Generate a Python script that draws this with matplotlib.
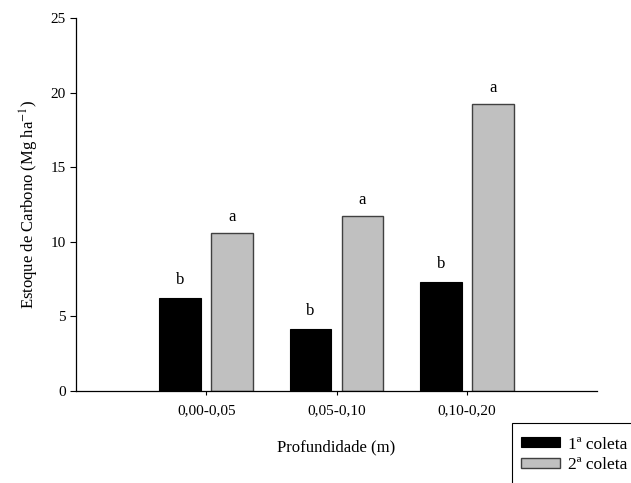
import matplotlib
matplotlib.use("Agg")
import matplotlib.pyplot as plt
from matplotlib.patches import Rectangle
import numpy as np

plt.rcParams["font.family"] = ["Liberation Serif", "DejaVu Serif"]
plt.rcParams["mathtext.fontset"] = "stix"

depths = ["0,00-0,05", "0,05-0,10", "0,10-0,20"]
coleta1 = [6.2, 4.15, 7.3]
coleta2 = [10.55, 11.7, 19.2]
letters1 = ["b", "b", "b"]
letters2 = ["a", "a", "a"]
series_names = ["1ª coleta", "2ª coleta"]

W, H = 631, 483
fig = plt.figure(figsize=(W / 100, H / 100), dpi=100)
ax = fig.add_axes([76 / W, 1 - 390.7 / H, 521 / W, 372.7 / H])

x = np.arange(1, len(depths) + 1)
width = 0.32
offset = 0.2
b1 = ax.bar(x - offset, coleta1, width, color="black", edgecolor="black",
            linewidth=0.8, label=series_names[0])
b2 = ax.bar(x + offset, coleta2, width, color="#c0c0c0", edgecolor="#404040",
            linewidth=1.0, label=series_names[1])

tick_fs = 11
label_fs = 12
legend_fs = 12.5
for xi, v, s in zip(x - offset, coleta1, letters1):
    ax.text(xi, v + 0.95, s, ha="center", va="baseline", fontsize=label_fs)
for xi, v, s in zip(x + offset, coleta2, letters2):
    ax.text(xi, v + 0.85, s, ha="center", va="baseline", fontsize=label_fs)

ax.set_xlim(0, 4)
ax.set_ylim(0, 25)
ax.set_xticks(x)
ax.set_xticklabels(depths)
ax.set_yticks([0, 5, 10, 15, 20, 25])
ax.tick_params(axis="y", length=4.5, width=0.8, pad=3, labelsize=tick_fs)
ax.tick_params(axis="x", length=3, width=0.8, pad=7, labelsize=tick_fs)
for side in ("top", "right"):
    ax.spines[side].set_visible(False)
for side in ("left", "bottom"):
    ax.spines[side].set_linewidth(0.9)

ax.set_xlabel("Profundidade (m)", fontsize=label_fs)
ax.set_ylabel(r"Estoque de Carbono (Mg ha$^{-1}$)", fontsize=label_fs)
ax.xaxis.set_label_coords(0.5, -0.13)
ax.yaxis.set_label_coords(-0.067, 0.5)

# legend box runs off the right and bottom edges of the figure
fig.patches.append(Rectangle((511.7 / W, -0.05), 0.3, 1 - 423.3 / H + 0.05,
                             transform=fig.transFigure, facecolor="white",
                             edgecolor="black", linewidth=0.8))
fig.legend(handles=[b1, b2], loc="upper left",
           bbox_to_anchor=(511.7 / W, 1 - 427.5 / H),
           fontsize=legend_fs, frameon=False,
           handlelength=2.25, handleheight=0.52, handletextpad=0.45,
           labelspacing=0.28, borderpad=0.52, borderaxespad=0)

fig.savefig("out.png", dpi=100)
